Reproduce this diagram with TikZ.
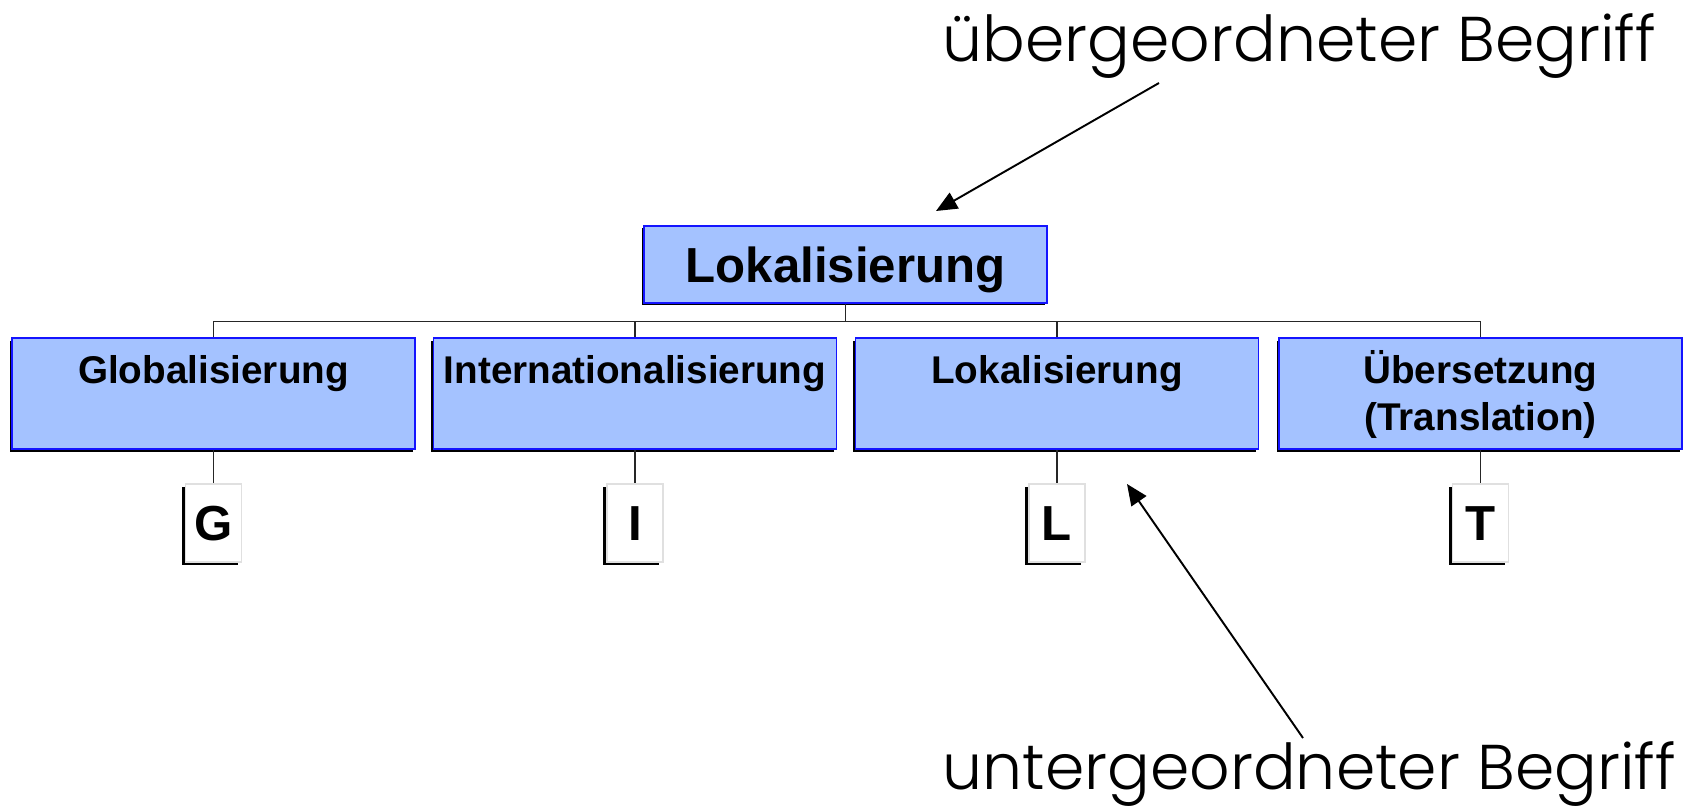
\documentclass[tikz,border=0pt]{standalone}
\usepackage{fontspec}
\setmainfont{Liberation Sans}
\newfontfamily\notefont{Poppins Light}
\usetikzlibrary{arrows.meta,shadows}
\definecolor{boxblue}{RGB}{164,194,255}
\definecolor{edgeblue}{RGB}{20,20,255}
\tikzset{
  blackshadow/.style={drop shadow={shadow xshift=-0.05cm, shadow yshift=-0.05cm, fill=black, opacity=1}},
  topbox/.style={draw=edgeblue, fill=boxblue, line width=0.6pt, blackshadow,
    minimum width=8.06cm, minimum height=1.54cm,
    font=\bfseries\fontsize{28}{34}\selectfont, text height=28pt, text depth=7.9pt},
  subbox/.style={draw=edgeblue, fill=boxblue, line width=0.6pt, blackshadow,
    minimum width=8.06cm, minimum height=2.22cm},
  subtext/.style={anchor=base, inner sep=0pt, text width=7.9cm, align=center,
    font=\bfseries\fontsize{22}{26.5}\selectfont},
  letterbox/.style={draw=black!12, fill=white, line width=0.6pt, inner sep=0pt,
    minimum width=1.12cm, minimum height=1.56cm,
    drop shadow={shadow xshift=-0.08cm, shadow yshift=-0.05cm, fill=black, opacity=1},
    font=\bfseries\fontsize{28}{34}\selectfont, text height=28pt, text depth=7.9pt},
  conn/.style={draw=black!85, line width=0.7pt},
  pointer/.style={-{Triangle[length=0.42cm,width=0.36cm]}, line width=1.1pt},
  note/.style={anchor=base west, inner sep=0pt, font=\notefont\fontsize{36}{40}\selectfont}
}
\begin{document}
\begin{tikzpicture}[x=1cm,y=1cm]
\useasboundingbox (0,0) rectangle (33.8,-16.2);
% oberster Begriff
\node[topbox] (lok) at (16.91,-5.29) {Lokalisierung};
% Unterbegriffe
\node[subbox] (glob) at (4.27,-7.87) {};
\node[subbox] (intl) at (12.70,-7.87) {};
\node[subbox] (loka) at (21.14,-7.87) {};
\node[subbox] (uebs) at (29.61,-7.87) {};
\node[subtext] (globtxt) at ([yshift=-0.92cm]glob.north) {Globalisierung};
\node[subtext] (intltxt) at ([yshift=-0.92cm]intl.north) {Internationalisierung};
\node[subtext] (lokatxt) at ([yshift=-0.92cm]loka.north) {Lokalisierung};
\node[subtext] (uebstxt) at ([yshift=-0.92cm]uebs.north) {Übersetzung\\(Translation)};
% Kurzformen
\node[letterbox] (g) at (4.27,-10.46) {G};
\node[letterbox] (i) at (12.70,-10.46) {I};
\node[letterbox] (l) at (21.14,-10.46) {L};
\node[letterbox] (t) at (29.61,-10.46) {T};
% Linien
\draw[conn] (lok.south) -- ++(0,-0.36) coordinate (hub);
\draw[conn] (hub) -| (glob.north);
\draw[conn] (hub) -| (intl.north);
\draw[conn] (hub) -| (loka.north);
\draw[conn] (hub) -| (uebs.north);
\draw[conn] (glob.south) -- (g.north);
\draw[conn] (intl.south) -- (i.north);
\draw[conn] (loka.south) -- (l.north);
\draw[conn] (uebs.south) -- (t.north);
% Erklaerungen
\node[note] (ober) at (18.85,-1.24) {übergeordneter Begriff};
\node[note] (unter) at (18.85,-15.78) {untergeordneter Begriff};
\coordinate (oberstart) at (23.18,-1.66);
\coordinate (obertip) at (18.72,-4.22);
\coordinate (unterstart) at (26.06,-14.76);
\coordinate (untertip) at (22.54,-9.68);
\draw[pointer] (oberstart) -- (obertip);
\draw[pointer] (unterstart) -- (untertip);
\end{tikzpicture}
\end{document}
